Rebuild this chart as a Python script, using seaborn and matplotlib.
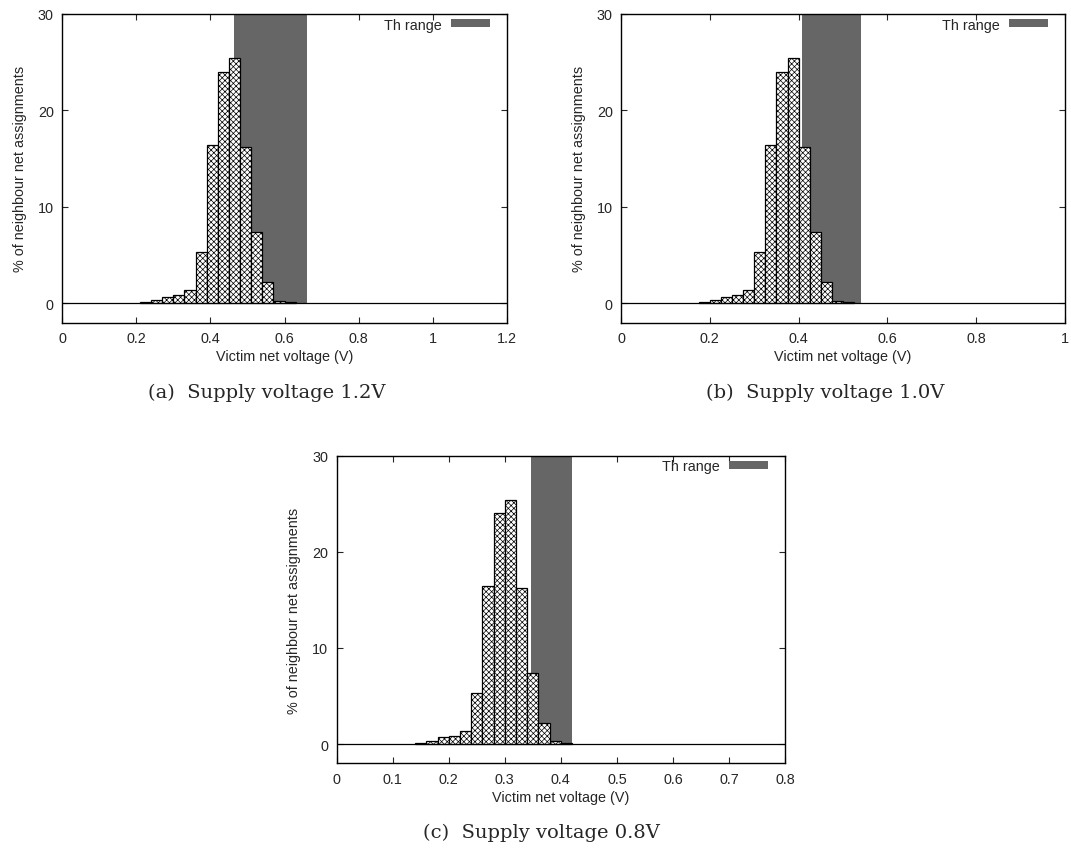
import numpy as np
import seaborn as sns
import matplotlib.pyplot as plt

sns.set_style("ticks")
plt.rcParams['font.family'] = ['Liberation Sans', 'DejaVu Sans']
plt.rcParams['hatch.linewidth'] = 0.5

# Histogram of victim net voltage, % of assignments per bin (same shape for all supplies)
pct = [0.1, 0.35, 0.7, 0.85, 1.4, 5.3, 16.4, 24.0, 25.4, 16.2, 7.4, 2.2, 0.3, 0.15]

# bin left edges for each supply voltage
bins_12 = [0.21, 0.24, 0.27, 0.30, 0.33, 0.36, 0.39, 0.42, 0.45, 0.48, 0.51, 0.54, 0.57, 0.60]
bins_10 = [0.175, 0.200, 0.225, 0.250, 0.275, 0.300, 0.325, 0.350, 0.375, 0.400, 0.425, 0.450, 0.475, 0.500]
bins_08 = [0.14, 0.16, 0.18, 0.20, 0.22, 0.24, 0.26, 0.28, 0.30, 0.32, 0.34, 0.36, 0.38, 0.40]
width_12, width_10, width_08 = 0.03, 0.025, 0.02

# threshold voltage range
th_12 = (0.465, 0.66)
th_10 = (0.408, 0.54)
th_08 = (0.347, 0.42)

xmax = [1.2, 1.0, 0.8]
xticks = [[0, 0.2, 0.4, 0.6, 0.8, 1, 1.2],
          [0, 0.2, 0.4, 0.6, 0.8, 1],
          [0, 0.1, 0.2, 0.3, 0.4, 0.5, 0.6, 0.7, 0.8]]
captions = ["(a)  Supply voltage 1.2V", "(b)  Supply voltage 1.0V", "(c)  Supply voltage 0.8V"]

W, H = 1071, 853
fig = plt.figure(figsize=(W / 100, H / 100), dpi=100)

# axes boxes in pixels: left, right, top, bottom
boxes = [(62, 507, 15, 323.7), (621, 1065, 15, 323.7), (336.7, 785, 456.7, 764.3)]
cap_pos = [(267, 393), (825, 393), (541, 833)]

panels = [(bins_12, width_12, th_12), (bins_10, width_10, th_10), (bins_08, width_08, th_08)]
fs = 10.4

for i, (bins, w, th) in enumerate(panels):
    l, r, t, b = boxes[i]
    ax = fig.add_axes([l / W, 1 - b / H, (r - l) / W, (b - t) / H])

    ax.fill_between(list(th), 0, 30, color='#666666', lw=0, zorder=1, label='Th range')
    edges = list(bins) + [bins[-1] + w]
    centers = [x + w / 2 for x in bins]
    sns.histplot(x=centers, weights=pct, bins=edges, ax=ax, stat='count',
                 color='white', edgecolor='black', linewidth=0.9, hatch='xxxxxx',
                 alpha=1, zorder=2)
    ax.axhline(0, color='black', lw=0.9, zorder=3)

    ax.set_xlim(0, xmax[i])
    ax.set_ylim(-2, 30)
    ax.set_xticks(xticks[i])
    ax.set_xticklabels([f"{v:g}" for v in xticks[i]])
    ax.set_yticks([0, 10, 20, 30])
    ax.tick_params(direction='in', top=True, right=True, length=4, width=0.8,
                   labelsize=fs, pad=6)
    for s in ax.spines.values():
        s.set_linewidth(1)
        s.set_color('black')
    ax.set_xlabel("Victim net voltage (V)", fontsize=fs, labelpad=3)
    ax.set_ylabel("% of neighbour net assignments", fontsize=fs, labelpad=8)
    ax.legend(loc='upper right', bbox_to_anchor=(0.968, 0.998), frameon=False,
              markerfirst=False, fontsize=fs, handlelength=2.7, handleheight=0.45,
              handletextpad=0.6, borderaxespad=0, borderpad=0.2)

    cx, cy = cap_pos[i]
    fig.text(cx / W, 1 - cy / H, captions[i], ha='center', va='center',
             fontsize=14, family='DejaVu Serif')

plt.savefig("out.png", dpi=100)
plt.close()
